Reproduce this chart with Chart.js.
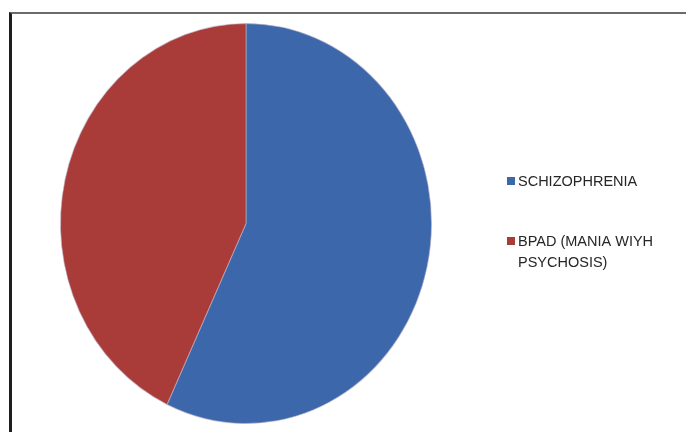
<!DOCTYPE html>
<html>
<head>
<meta charset="utf-8">
<script src="https://cdn.jsdelivr.net/npm/chart.js@4/dist/chart.umd.min.js"></script>
<style>
  html, body { margin: 0; padding: 0; background: #fff; }
  #wrap { position: relative; width: 686px; height: 432px; }
  #frame {
    position: absolute; left: 9px; top: 12px; right: 0; bottom: 0;
    border-top: 2px solid #6b6b6b; border-left: 3px solid #1e1e1e;
  }
  canvas { position: absolute; left: 0; top: 0; }
</style>
</head>
<body>
<div id="wrap">
  <div id="frame"></div>
  <canvas id="pieChart" width="686" height="432"></canvas>
</div>
<script>
const diagnoses = ['SCHIZOPHRENIA', 'BPAD (MANIA WIYH PSYCHOSIS)'];
const legendLines = [['SCHIZOPHRENIA'], ['BPAD (MANIA WIYH', 'PSYCHOSIS)']];
const patientShare = [57, 43];
const sliceColors = ['#3d67ab', '#a93c39'];

// the pie is drawn slightly taller than wide
const stretchY = 1.078;

const stretchPlugin = {
    id: 'stretch',
    beforeDatasetsDraw(chart) {
        const area = chart.chartArea;
        const cx = (area.left + area.right) / 2;
        const cy = (area.top + area.bottom) / 2;
        const ctx = chart.ctx;
        ctx.save();
        ctx.translate(cx, cy);
        ctx.scale(1, stretchY);
        ctx.translate(-cx, -cy);
    },
    afterDatasetsDraw(chart) {
        chart.ctx.restore();
    }
};

// legend on the right, with wrapped labels
const sideLegend = {
    id: 'sideLegend',
    afterDraw(chart) {
        const ctx = chart.ctx;
        const colors = chart.data.datasets[0].backgroundColor;
        const rows = [186, 246];
        ctx.save();
        ctx.font = '14.5px "Liberation Sans", Arial, sans-serif';
        ctx.textBaseline = 'alphabetic';
        legendLines.forEach((lines, i) => {
            ctx.fillStyle = colors[i];
            ctx.fillRect(507, rows[i] - 9, 8, 8);
            ctx.fillStyle = '#262626';
            lines.forEach((line, j) => {
                ctx.fillText(line, 518, rows[i] + j * 21);
            });
        });
        ctx.restore();
    }
};

new Chart(document.getElementById('pieChart').getContext('2d'), {
    type: 'pie',
    data: {
        labels: diagnoses,
        datasets: [{
            data: patientShare,
            backgroundColor: sliceColors,
            borderColor: 'rgba(190,180,200,0.6)',
            borderWidth: 1
        }]
    },
    options: {
        responsive: false,
        animation: false,
        layout: {
            padding: { left: 60, right: 254, top: 37, bottom: 22 }
        },
        plugins: {
            legend: { display: false },
            tooltip: { enabled: false }
        }
    },
    plugins: [stretchPlugin, sideLegend]
});
</script>
</body>
</html>
